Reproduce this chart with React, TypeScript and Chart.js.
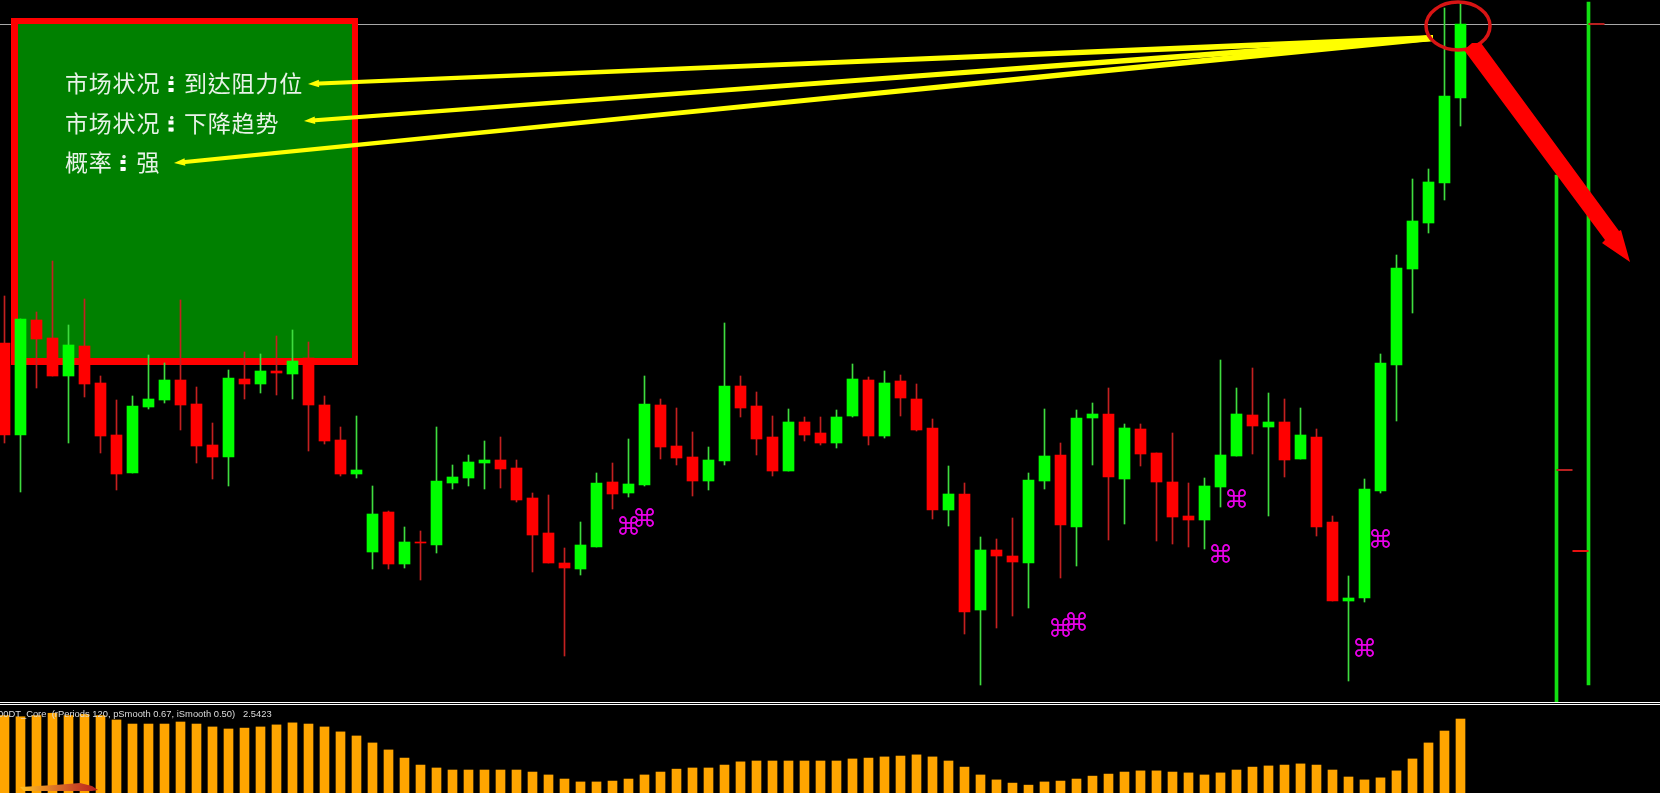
import React, { useEffect, useRef } from "react";
import { Chart, registerables } from "chart.js";

Chart.register(...registerables);

const opens = [359,267,382,364,326,356,319,267,229,295,302,322,298,257,245,323,318,331,328,344,297,262,228,150,190,138,160,157,219,224,239,242,234,204,169,139,133,155,220,209,217,297,256,245,221,241,316,296,265,231,280,269,259,286,322,266,321,303,274,192,208,92,152,146,139,221,247,175,284,288,223,273,249,220,186,182,215,246,287,275,280,243,265,180,101,104,211,337,433,479,519,604];
const closes = [267,383,363,326,357,318,266,228,296,303,322,297,256,245,324,318,331,329,341,297,261,228,232,188,138,160,159,221,225,240,242,233,202,167,139,134,157,219,208,218,298,255,244,221,242,316,294,263,231,280,267,259,285,323,266,319,304,272,192,208,90,152,146,140,222,246,177,284,288,225,274,248,220,185,182,216,247,288,276,280,242,267,175,101,104,213,339,434,481,520,606,678];
const highs = [406,383,390,441,377,403,326,302,306,347,339,402,315,279,332,350,348,366,372,360,306,275,286,216,191,175,171,275,237,247,261,265,242,209,207,154,180,229,239,263,326,303,294,270,255,379,326,310,286,293,285,285,292,338,325,331,327,318,283,236,219,165,163,184,229,293,259,292,299,314,278,278,249,269,219,224,342,314,334,309,303,294,273,186,126,223,348,447,523,533,694,700];
const lows = [259,210,314,326,259,305,249,212,229,293,299,272,239,223,216,303,309,307,303,251,258,226,224,133,133,134,122,149,213,216,213,214,200,130,139,46,127,155,193,205,216,243,237,206,212,237,285,247,226,231,261,257,254,285,257,264,286,271,183,176,68,17,74,86,94,213,124,136,237,162,178,236,161,158,155,153,195,246,248,186,225,243,166,101,21,100,209,281,389,469,502,576];

const histogram = [2.66,2.62,2.66,2.74,2.66,2.70,2.66,2.51,2.37,2.37,2.37,2.44,2.37,2.27,2.20,2.23,2.27,2.34,2.41,2.37,2.27,2.10,1.96,1.72,1.48,1.20,0.96,0.86,0.79,0.79,0.79,0.79,0.79,0.72,0.62,0.48,0.38,0.38,0.41,0.48,0.62,0.72,0.82,0.86,0.86,0.96,1.07,1.10,1.10,1.10,1.10,1.10,1.10,1.17,1.20,1.24,1.27,1.31,1.24,1.10,0.89,0.62,0.45,0.34,0.27,0.38,0.41,0.48,0.58,0.65,0.72,0.76,0.76,0.72,0.69,0.62,0.69,0.79,0.89,0.93,0.96,1.00,0.96,0.79,0.55,0.45,0.52,0.76,1.17,1.72,2.13,2.5423];

const markerIndex = [39,40,66,67,76,77,85,86];
const markerPrice = [176,184,74,80,148,203,54,163];

const signalIndex = [97,99];
const signalHigh = [527,700];
const signalLow = [0,17];

const tickIndex = [99,97,99];
const tickPrice = [678,232,151];
const tickSide = [1,1,-1];
const tickColor = ["#b82020","#b82020","#e81010"];

const lastPrice = 678;

const infoLines = ["市场状况：到达阻力位","市场状况：下降趋势","概率：强"];
const indicatorLabel = "00DT_Core  (rPeriods 120, pSmooth 0.67, iSmooth 0.50)   2.5423";

const UP = "#00ff00";
const DOWN = "#ff0000";
const UP_WICK = "#3fdc3f";
const DOWN_WICK = "#c42020";

const xMin = -4.5 / 16;
const xMax = (1660 - 4.5) / 16;

function yellowArrow(ctx: CanvasRenderingContext2D, x0: number, y0: number, x1: number, y1: number) {
  const dx = x1 - x0, dy = y1 - y0;
  const len = Math.hypot(dx, dy);
  const ux = dx / len, uy = dy / len;
  const px = -uy, py = ux;
  const hx = x1 - ux * 11, hy = y1 - uy * 11;
  ctx.fillStyle = "#ffff00";
  ctx.beginPath();
  ctx.moveTo(x0 + px * 3, y0 + py * 3);
  ctx.lineTo(hx + px * 2, hy + py * 2);
  ctx.lineTo(hx + px * 3.8, hy + py * 3.8);
  ctx.lineTo(x1, y1);
  ctx.lineTo(hx - px * 3.8, hy - py * 3.8);
  ctx.lineTo(hx - px * 2, hy - py * 2);
  ctx.lineTo(x0 - px * 3, y0 - py * 3);
  ctx.closePath();
  ctx.fill();
}

const underlay = {
  id: "underlay",
  beforeDatasetsDraw(chart: any) {
    const { ctx, scales } = chart;
    ctx.save();
    ctx.fillStyle = "#a8a8a8";
    ctx.fillRect(0, scales.y.getPixelForValue(lastPrice), 1660, 1);
    ctx.fillStyle = "#ff0000";
    ctx.fillRect(11, 18, 347, 347);
    ctx.fillStyle = "#008000";
    ctx.fillRect(18, 24, 334, 334);
    ctx.restore();
  },
};

const overlay = {
  id: "overlay",
  afterDatasetsDraw(chart: any) {
    const { ctx, scales } = chart;
    ctx.save();

    ctx.fillStyle = "#e8f2e8";
    ctx.font = '23px "Noto Sans CJK TC"';
    ctx.textBaseline = "middle";
    (ctx as any).letterSpacing = "0.8px";
    infoLines.forEach((t, i) => ctx.fillText(t, 65, 83.5 + i * 39.5));
    (ctx as any).letterSpacing = "0px";
    ctx.fillStyle = "#ffffff";
    [171, 171, 123].forEach((cx, i) => {
      const cy = 86 + i * 39.5;
      ctx.fillRect(cx - 2.5, cy - 5, 5, 4);
      ctx.fillRect(cx - 2.5, cy + 2, 5, 4);
    });

    yellowArrow(ctx, 1433, 38, 308, 84);
    yellowArrow(ctx, 1433, 38, 304, 121);
    yellowArrow(ctx, 1433, 38, 174, 163);

    tickIndex.forEach((idx, i) => {
      const x = scales.x.getPixelForValue(idx);
      const y = scales.y.getPixelForValue(tickPrice[i]);
      ctx.fillStyle = tickColor[i];
      if (tickSide[i] > 0) ctx.fillRect(x, y - 1, 16, 2);
      else ctx.fillRect(x - 16, y - 1, 16, 2);
    });

    const meta = chart.getDatasetMeta(0);
    ctx.fillStyle = "#e800e8";
    ctx.font = '25px "DejaVu Sans"';
    ctx.textAlign = "center";
    ctx.textBaseline = "middle";
    meta.data.forEach((pt: any) => ctx.fillText("\u2318", pt.x, pt.y + 2));

    ctx.strokeStyle = "#d81414";
    ctx.lineWidth = 3.5;
    ctx.beginPath();
    ctx.ellipse(1458, 26, 32, 24, 0, 0, Math.PI * 2);
    ctx.stroke();

    ctx.fillStyle = "#ff0000";
    ctx.beginPath();
    ctx.moveTo(1464, 50);
    ctx.lineTo(1472, 43);
    ctx.lineTo(1481, 43);
    ctx.lineTo(1619, 231);
    ctx.lineTo(1621, 230);
    ctx.lineTo(1630, 262);
    ctx.lineTo(1602, 243);
    ctx.lineTo(1605, 240);
    ctx.closePath();
    ctx.fill();
    ctx.restore();
  },
};

const subOverlay = {
  id: "subOverlay",
  afterDatasetsDraw(chart: any) {
    const { ctx } = chart;
    ctx.save();
    ctx.fillStyle = "#dcdcdc";
    ctx.font = '9.4px "Liberation Sans"';
    ctx.textBaseline = "middle";
    ctx.fillText(indicatorLabel, -2, 9);
    const g = ctx.createLinearGradient(20, 0, 98, 0);
    g.addColorStop(0, "#ffc020");
    g.addColorStop(0.5, "#d86a28");
    g.addColorStop(1, "#b81e1e");
    ctx.fillStyle = g;
    ctx.beginPath();
    ctx.moveTo(20, 82);
    ctx.lineTo(55, 80);
    ctx.lineTo(80, 78);
    ctx.lineTo(92, 81);
    ctx.lineTo(98, 85);
    ctx.lineTo(92, 86);
    ctx.lineTo(24, 86);
    ctx.closePath();
    ctx.fill();
    ctx.restore();
  },
};

const hiddenX = { type: "linear", min: xMin, max: xMax, display: false, offset: false } as const;

export default function App() {
  const mainRef = useRef<HTMLCanvasElement>(null);
  const subRef = useRef<HTMLCanvasElement>(null);

  useEffect(() => {
    document.body.style.margin = "0";
    document.body.style.background = "#000";
    document.body.style.overflow = "hidden";

    const bullish = closes.map((c, i) => c >= opens[i]);
    const main = new Chart(mainRef.current!, {
      type: "bar",
      data: {
        datasets: [
          {
            type: "scatter",
            label: "Markers",
            data: markerIndex.map((x, i) => ({ x, y: markerPrice[i] })),
            pointRadius: 0,
            showLine: false,
          },
          {
            label: "Body",
            data: opens.map((o, i) => ({ x: i, y: [Math.min(o, closes[i]), Math.max(o, closes[i])] })),
            backgroundColor: bullish.map((b) => (b ? UP : DOWN)),
            barThickness: 11,
            grouped: false,
            borderWidth: 0,
          },
          {
            label: "Wick",
            data: highs.map((h, i) => ({ x: i, y: [lows[i], h] })),
            backgroundColor: bullish.map((b) => (b ? UP_WICK : DOWN_WICK)),
            barThickness: 1,
            grouped: false,
            borderWidth: 0,
          },
          {
            label: "Signal",
            data: signalIndex.map((x, i) => ({ x, y: [signalLow[i], signalHigh[i]] })),
            backgroundColor: "#12e012",
            barThickness: 3,
            grouped: false,
            borderWidth: 0,
          },
        ] as any,
      },
      options: {
        animation: false,
        responsive: false,
        layout: { padding: 0 },
        events: [],
        plugins: { legend: { display: false }, tooltip: { enabled: false } },
        scales: {
          x: hiddenX,
          y: { type: "linear", min: 0, max: 702, display: false },
        },
      } as any,
      plugins: [underlay, overlay],
    });

    const sub = new Chart(subRef.current!, {
      type: "bar",
      data: {
        datasets: [
          {
            label: "Core",
            data: histogram.map((v, i) => ({ x: i, y: v })),
            backgroundColor: "#ffa500",
            barThickness: 9,
            grouped: false,
            borderWidth: 0,
          },
        ],
      },
      options: {
        animation: false,
        responsive: false,
        layout: { padding: 0 },
        events: [],
        plugins: { legend: { display: false }, tooltip: { enabled: false } },
        scales: {
          x: hiddenX,
          y: { type: "linear", min: 0, max: 88 / 29.1, display: false },
        },
      } as any,
      plugins: [subOverlay],
    });

    return () => {
      main.destroy();
      sub.destroy();
    };
  }, []);

  return (
    <div style={{ position: "relative", width: 1660, height: 793, background: "#000", overflow: "hidden" }}>
      <canvas ref={mainRef} width={1660} height={702} style={{ position: "absolute", left: 0, top: 0, width: 1660, height: 702 }} />
      <div style={{ position: "absolute", left: 0, top: 702, width: 1660, height: 1, background: "#fff" }} />
      <div style={{ position: "absolute", left: 0, top: 704, width: 1660, height: 1, background: "#fff" }} />
      <canvas ref={subRef} width={1660} height={88} style={{ position: "absolute", left: 0, top: 705, width: 1660, height: 88 }} />
    </div>
  );
}
